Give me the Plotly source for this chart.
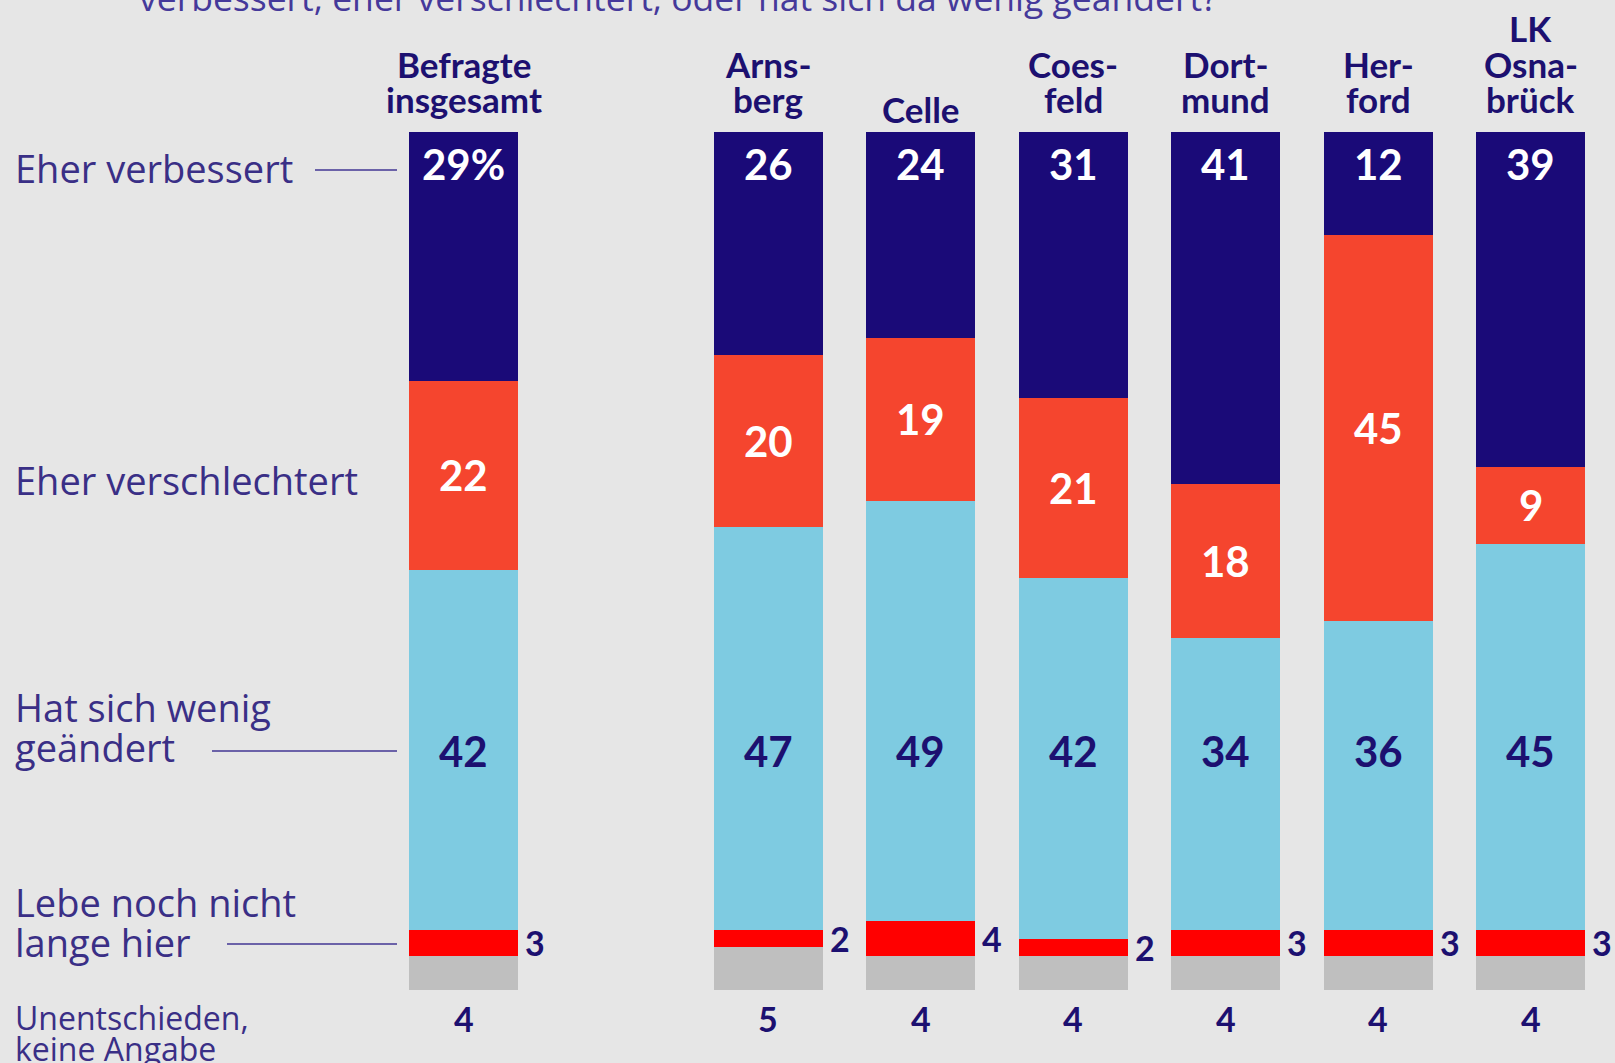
import plotly.graph_objects as go

# ---------------- data ----------------
regions = ["Befragte\ninsgesamt", "Arns-\nberg", "Celle", "Coes-\nfeld",
           "Dort-\nmund", "Her-\nford", "LK\nOsna-\nbrück"]
verbessert = [29, 26, 24, 31, 41, 12, 39]
verschlechtert = [22, 20, 19, 21, 18, 45, 9]
wenig_geaendert = [42, 47, 49, 42, 34, 36, 45]
lebe_nicht_lange = [3, 2, 4, 2, 3, 3, 3]
unentschieden = [4, 5, 4, 4, 4, 4, 4]
first_label_suffix = "%"

question_tail = "verbessert, eher verschlechtert, oder hat sich da wenig geändert?"

# ---------------- layout constants ----------------
W, H = 1615, 1063
positions = [0, 2, 3, 4, 5, 6, 7]
unit_px = 152.43
bar_w = 0.715
x0_px = 463.5          # pixel centre of position 0
y0_px, y100_px = 990, 132
ypu = (y0_px - y100_px) / 100.0

xr = [-x0_px / unit_px, (W - x0_px) / unit_px]
yr = [-(H - y0_px) / ypu, 100 + y100_px / ypu]

NAVY = "#1a0a78"
ORANGE = "#f5452e"
LBLUE = "#7ecbe1"
RED = "#ff0000"
GRAY = "#bfbfbf"
BG = "#e6e6e6"
TXT = "#1c1070"
LTXT = "#3a2f86"
FONT = "Lato"
LFONT = "Open Sans"

fig = go.Figure()
series = [
    ("Unentschieden, keine Angabe", unentschieden, GRAY),
    ("Lebe noch nicht lange hier", lebe_nicht_lange, RED),
    ("Hat sich wenig geändert", wenig_geaendert, LBLUE),
    ("Eher verschlechtert", verschlechtert, ORANGE),
    ("Eher verbessert", verbessert, NAVY),
]
for name, vals, col in series:
    fig.add_trace(go.Bar(x=positions, y=vals, name=name, width=bar_w,
                         marker=dict(color=col, line=dict(width=0)),
                         hoverinfo="skip"))

ann = []
bold = dict(family=FONT, weight="bold")

for i, p in enumerate(positions):
    b_red = unentschieden[i]
    b_blue = b_red + lebe_nicht_lange[i]
    b_orange = b_blue + wenig_geaendert[i]
    b_navy = b_orange + verschlechtert[i]
    top = b_navy + verbessert[i]
    t = str(verbessert[i]) + (first_label_suffix if i == 0 else "")
    ann.append(dict(x=p, y=top, xref="x", yref="y", text=t, showarrow=False,
                    yanchor="middle", yshift=-32,
                    font=dict(size=42, color="white", **bold)))
    ann.append(dict(x=p, y=b_orange + verschlechtert[i] / 2, xref="x", yref="y",
                    text=str(verschlechtert[i]), showarrow=False, yanchor="middle",
                    font=dict(size=42, color="white", **bold)))
    ann.append(dict(x=p, y=(y0_px - 751) / ypu, xref="x", yref="y",
                    text=str(wenig_geaendert[i]), showarrow=False, yanchor="middle",
                    font=dict(size=42, color=TXT, **bold)))
    ann.append(dict(x=p + bar_w / 2, y=b_red + lebe_nicht_lange[i] / 2, xref="x", yref="y",
                    text=str(lebe_nicht_lange[i]), showarrow=False, xanchor="left",
                    yanchor="middle", xshift=5,
                    font=dict(size=34, color=TXT, **bold)))
    ann.append(dict(x=p, y=0, xref="x", yref="y", text=str(unentschieden[i]),
                    showarrow=False, yanchor="middle", yshift=-28,
                    font=dict(size=34, color=TXT, **bold)))
    lines = regions[i].split("\n")
    n = len(lines)
    extra = -10 if n == 1 else 0
    for k, ln in enumerate(lines):
        ann.append(dict(x=p, y=100, xref="x", yref="y", text=ln, showarrow=False,
                        yanchor="middle", yshift=33 + 35.5 * (n - 1 - k) + extra,
                        font=dict(size=35, color=TXT, **bold)))


def px_y(py):
    return 1 - py / H


def px_x(px):
    return px / W


left_labels = [
    (["Eher verbessert"], 168, 38),
    (["Eher verschlechtert"], 480, 38),
    (["Hat sich wenig", "geändert"], 707, 38),
    (["Lebe noch nicht", "lange hier"], 902, 38),
    (["Unentschieden,", "keine Angabe"], 1017, 32),
]
for lines, ytop, fs in left_labels:
    step = 40 if fs > 33 else 31
    for k, ln in enumerate(lines):
        ann.append(dict(x=px_x(13), y=px_y(ytop + step * k), xref="paper", yref="paper",
                        text=ln, showarrow=False, xanchor="left", yanchor="middle",
                        font=dict(family=LFONT, size=fs, color=LTXT)))

ann.append(dict(x=px_x(137), y=px_y(-3), xref="paper", yref="paper", text=question_tail,
                showarrow=False, xanchor="left", yanchor="middle",
                font=dict(family=LFONT, size=35.5, color="#45399a")))

shapes = []
for y, xa, xb in [(170, 315, 397), (751, 212, 397), (944, 227, 397)]:
    shapes.append(dict(type="line", xref="paper", yref="paper",
                       x0=px_x(xa), x1=px_x(xb), y0=px_y(y), y1=px_y(y),
                       line=dict(color="#6b62a8", width=2)))

fig.update_layout(
    width=W, height=H, barmode="stack", bargap=0,
    margin=dict(l=0, r=0, t=0, b=0),
    paper_bgcolor=BG, plot_bgcolor=BG, showlegend=False,
    xaxis=dict(range=xr, visible=False, fixedrange=True),
    yaxis=dict(range=yr, visible=False, fixedrange=True),
    annotations=ann, shapes=shapes,
)
fig.write_html("out.html", config={"displayModeBar": False},
               post_script="document.body.style.margin='0';document.body.style.overflow='hidden';")
